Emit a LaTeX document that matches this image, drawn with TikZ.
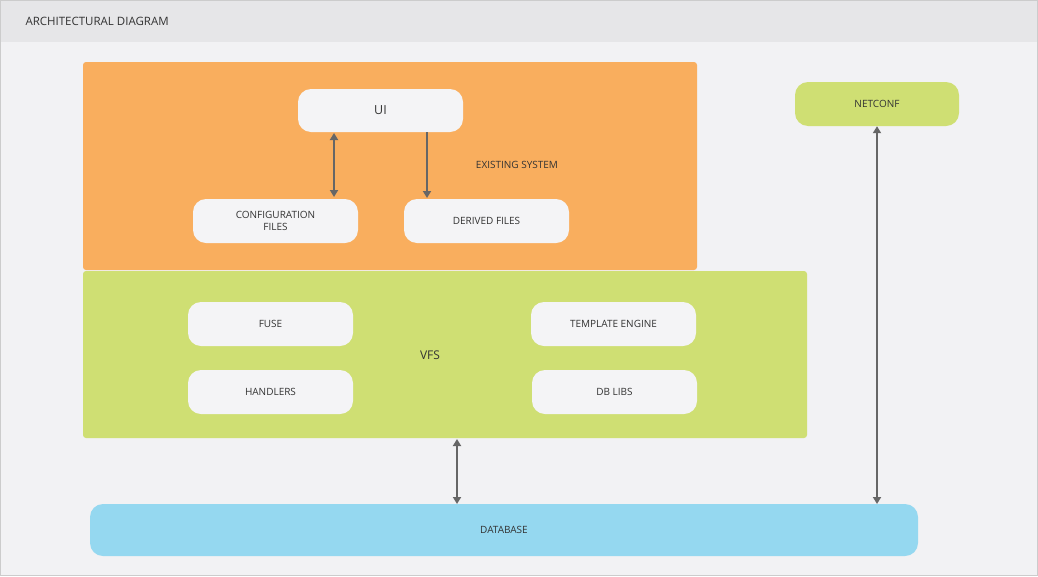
\documentclass[tikz,border=0pt]{standalone}
\usepackage{fontspec}
\setmainfont{Open Sans}
\usetikzlibrary{arrows.meta}
\definecolor{bg}{HTML}{F2F2F4}
\definecolor{hdr}{HTML}{E6E6E8}
\definecolor{org}{HTML}{F9AE5E}
\definecolor{grn}{HTML}{CFDF73}
\definecolor{blu}{HTML}{95D8F0}
\definecolor{pill}{HTML}{F4F4F6}
\definecolor{arr}{HTML}{666666}
\definecolor{txt}{HTML}{333333}
\begin{document}
\begin{tikzpicture}[x=1pt,y=-1pt,
  pill/.style={fill=pill,draw=none,rounded corners=13pt,text=txt,font=\fontsize{10}{12}\selectfont,align=center},
  conn/.style={draw=arr,line width=2.2pt,-{Triangle[length=7pt,width=8pt]}},
  dconn/.style={draw=arr,line width=2.2pt,{Triangle[length=7pt,width=8pt]}-{Triangle[length=7pt,width=8pt]}}]
\useasboundingbox (0,0) rectangle (1038,576);
\fill[bg] (0,0) rectangle (1038,576);
\fill[hdr] (0,0) rectangle (1038,42);
\draw[gray!40] (0.5,0.5) rectangle (1037.5,575.5);
\node[anchor=west,text=txt,font=\fontsize{11.5}{13}\selectfont] (title) at (22,21) {ARCHITECTURAL DIAGRAM};
\fill[org,rounded corners=3pt] (83,62) rectangle (697,270);
\fill[grn,rounded corners=3pt] (83,271) rectangle (807,438);
\node[text=txt,font=\fontsize{10}{12}\selectfont] (ex) at (517,165) {EXISTING SYSTEM};
\node[text=txt,font=\fontsize{12}{14}\selectfont] (vfs) at (430,355) {VFS};
\node[pill,fill=blu,minimum width=828pt,minimum height=52pt] (db) at (504,530) {DATABASE};
\node[pill,fill=grn,minimum width=164pt,minimum height=44pt] (nc) at (877,104) {NETCONF};
\node[pill,minimum width=165pt,minimum height=43pt,font=\fontsize{12.5}{14}\selectfont] (ui) at (380.5,110.5) {UI};
\node[pill,minimum width=165pt,minimum height=44pt] (cf) at (275.5,221) {CONFIGURATION\\FILES};
\node[pill,minimum width=165pt,minimum height=44pt] (df) at (486.5,221) {DERIVED FILES};
\node[pill,minimum width=165pt,minimum height=44pt] (fuse) at (270.5,324) {FUSE};
\node[pill,minimum width=165pt,minimum height=44pt] (hd) at (270.5,392) {HANDLERS};
\node[pill,minimum width=165pt,minimum height=44pt] (te) at (613.5,324) {TEMPLATE ENGINE};
\node[pill,minimum width=165pt,minimum height=44pt] (dbl) at (614.5,392) {DB LIBS};
\coordinate (vb) at (457,438);
\draw[dconn] (334,133) -- (334,197);
\draw[conn] (427,132) -- (427,198);
\draw[dconn] (457,439) -- (457,504);
\draw[dconn] (nc.south) -- (877,504);
\end{tikzpicture}
\end{document}
